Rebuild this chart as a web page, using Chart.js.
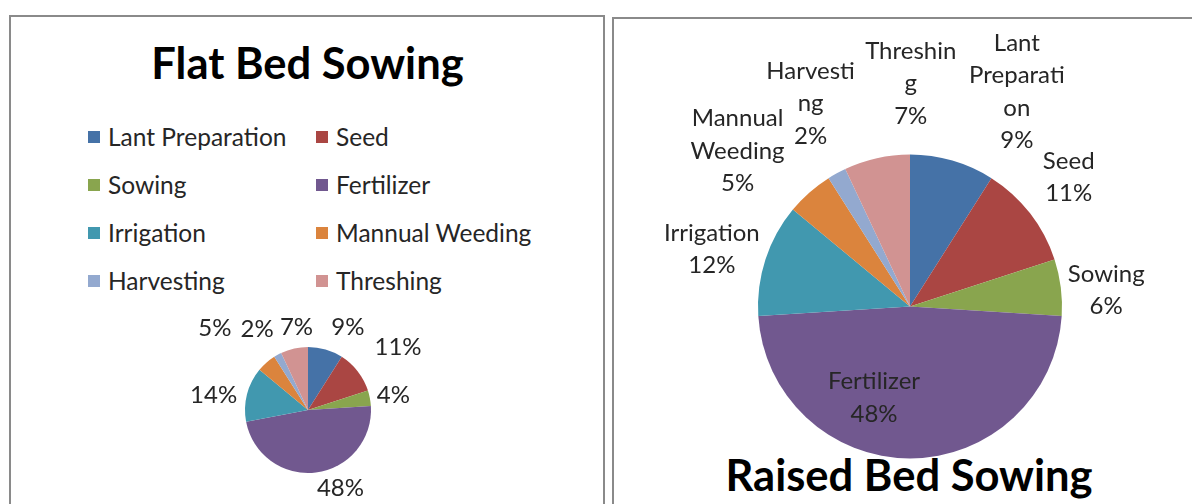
<!DOCTYPE html>
<html>
<head>
<meta charset="utf-8">
<script src="https://cdn.jsdelivr.net/npm/chart.js@4.4.1/dist/chart.umd.min.js"></script>
<style>
  body { margin: 0; width: 1192px; height: 504px; overflow: hidden; background: #fff; position: relative; font-family: Lato, 'Noto Sans', sans-serif; }
  .panel { position: absolute; border: 2px solid #8a8a8a; box-sizing: border-box; }
  #panelL { left: 9px; top: 15px; width: 596px; height: 540px; }
  #panelR { left: 612px; top: 17px; width: 600px; height: 540px; }
  canvas { position: absolute; }
  .title { position: absolute; font-weight: bold; font-size: 43.5px; line-height: 43.5px; color: #000; white-space: nowrap; transform: translateX(-50%); }
  #titleL { left: 307.5px; top: 41px; }
  #titleR { left: 909px; top: 453px; }
  #legendL { position: absolute; left: 88px; top: 112.5px; display: grid; grid-template-columns: 228px auto; grid-auto-rows: 48px; font-size: 24.5px; color: #262626; }
  .item { display: flex; align-items: center; white-space: nowrap; }
  .swatch { width: 12px; height: 12px; margin-right: 8px; }
</style>
</head>
<body>
<div class="panel" id="panelL"></div>
<div class="panel" id="panelR"></div>
<div class="title" id="titleL">Flat Bed Sowing</div>
<div id="legendL"></div>
<div class="title" id="titleR">Raised Bed Sowing</div>
<div style="position:absolute;left:0;top:0;width:604px;height:504px"><canvas id="pieL"></canvas></div>
<div style="position:absolute;left:606px;top:0;width:586px;height:504px"><canvas id="pieR"></canvas></div>
<script>
const categories = ['Lant Preparation', 'Seed', 'Sowing', 'Fertilizer', 'Irrigation', 'Mannual Weeding', 'Harvesting', 'Threshing'];
const flatBedShare = [9, 11, 4, 48, 14, 5, 2, 7];
const raisedBedShare = [9, 11, 6, 48, 12, 5, 2, 7];
// category names as the spreadsheet wraps them next to the raised bed pie
const raisedBedNameLines = [['Lant', 'Preparati', 'on'], ['Seed'], ['Sowing'], ['Fertilizer'], ['Irrigation'], ['Mannual', 'Weeding'], ['Harvesti', 'ng'], ['Threshin', 'g']];
const sliceColors = ['#4572a7', '#aa4643', '#89a54e', '#71588f', '#4198af', '#db843d', '#93a9cf', '#d19392'];

// labels at the outer end of each slice; nudge mimics the spreadsheet moving crowded labels
const excelPieLabels = {
  id: 'excelPieLabels',
  afterDraw(chart, args, opts) {
    const ctx = chart.ctx;
    const ds = chart.data.datasets[0];
    const total = ds.data.reduce((a, b) => a + b, 0);
    const clamp = t => Math.max(-1, Math.min(1, t * 4));
    ctx.save();
    ctx.font = opts.font;
    ctx.fillStyle = opts.color;
    ctx.textAlign = 'center';
    ctx.textBaseline = 'middle';
    chart.getDatasetMeta(0).data.forEach((arc, i) => {
      const p = arc.getProps(['x', 'y', 'startAngle', 'endAngle', 'outerRadius'], true);
      const mid = (p.startAngle + p.endAngle) / 2;
      const dx = Math.cos(mid), dy = Math.sin(mid);
      const r = p.outerRadius;
      const pct = Math.round(ds.data[i] / total * 100) + '%';
      const lines = opts.names ? opts.names[i].concat(pct) : [pct];
      const h = lines.length * opts.lineHeight;
      const w = Math.max(...lines.map(l => ctx.measureText(l).width));
      let cx, cy;
      if (opts.inside.includes(i)) {
        cx = p.x + dx * r * 0.6;
        cy = p.y + dy * r * 0.6;
      } else {
        cx = p.x + dx * (r + opts.gap) + clamp(dx) * w / 2;
        cy = p.y + dy * (r + opts.gap) + clamp(dy) * h / 2;
      }
      const nudge = opts.nudge[i] || [0, 0];
      cx += nudge[0];
      cy += nudge[1];
      lines.forEach((l, k) => ctx.fillText(l, cx, cy - h / 2 + opts.lineHeight * (k + 0.5)));
    });
    ctx.restore();
  }
};

function makePie(canvasId, values, radius, padding, labelOpts) {
  return new Chart(document.getElementById(canvasId), {
    type: 'pie',
    data: {
      labels: categories,
      datasets: [{ data: values, backgroundColor: sliceColors, borderWidth: 0 }]
    },
    options: {
      responsive: true,
      maintainAspectRatio: false,
      animation: false,
      radius: radius,
      layout: { padding: padding },
      plugins: {
        legend: { display: false },
        tooltip: { enabled: false },
        excelPieLabels: labelOpts
      }
    },
    plugins: [excelPieLabels]
  });
}

const flatChart = makePie('pieL', flatBedShare, 63,
  { left: 200, right: 188, top: 340, bottom: 24 },
  { font: '24px Lato', color: '#262626', lineHeight: 24, gap: 6, names: null, inside: [],
    nudge: [[4, -4], [12, -8], [1, 7], [12, -2], [-4, 14], [-31, -18], [-1, -8], [18, -3]] });

const raisedChart = makePie('pieR', raisedBedShare, 152,
  { left: 122, right: 100, top: 119, bottom: 10 },
  { font: '24px Lato', color: '#262626', lineHeight: 32.5, gap: 6, names: raisedBedNameLines, inside: [3],
    nudge: [[15, 2], [8, 0], [1, 20], [-36, 0], [0, 24], [-21, 12], [21, -16], [75, -20]] });

// legend for the flat bed chart, two columns like the spreadsheet
const legendEl = document.getElementById('legendL');
flatChart.data.labels.forEach((label, i) => {
  const item = document.createElement('div');
  item.className = 'item';
  const sw = document.createElement('span');
  sw.className = 'swatch';
  sw.style.background = sliceColors[i];
  item.appendChild(sw);
  item.appendChild(document.createTextNode(label));
  legendEl.appendChild(item);
});
</script>
</body>
</html>
